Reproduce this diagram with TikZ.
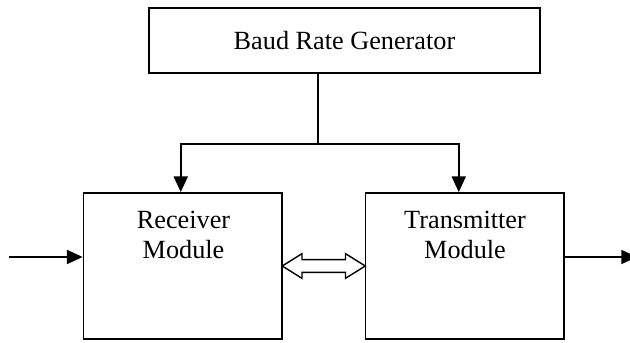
\documentclass[tikz,border=0pt]{standalone}
\usepackage{fontspec}
\setmainfont{Liberation Serif}
\usetikzlibrary{arrows.meta,shapes.arrows,calc}

\begin{document}
\begin{tikzpicture}[x=0.03cm, y=-0.03cm, >={Triangle[length=0.47cm,width=0.42cm]},
        block/.style={draw, line width=1.5pt, inner sep=0pt},
        wire/.style={line width=1.5pt},
        tag/.style={font=\fontsize{22.4}{25.5}\selectfont, align=center}]
        \useasboundingbox (0,0) rectangle (630,343);
        \node[block, tag, minimum width=11.73cm, minimum height=1.95cm] (brg) at (344.5,40.5) {Baud Rate Generator};
        \node[block, minimum width=5.955cm, minimum height=4.38cm] (rx) at (182.75,266) {};
        \node[block, minimum width=5.955cm, minimum height=4.38cm] (tx) at (464.75,266) {};
        \node[tag] (rxtext) at (183.5,235) {Receiver\\Module};
        \node[tag] (txtext) at (465,235) {Transmitter\\Module};
        % clock to both modules
        \coordinate (split) at (318,144);
        \coordinate (rxclk) at ($(rx.north)+(-2,0)$);
        \coordinate (txclk) at ($(tx.north)+(-6,0)$);
        \draw[wire] (brg.south -| split) -- (split);
        \draw[wire,->] (split) -| (rxclk);
        \draw[wire,->] (split) -| (txclk);
        % serial in and out
        \coordinate (src) at (9,257);
        \coordinate (sink) at (637,257);
        \draw[wire,->] (src) -- (src -| rx.west);
        \draw[wire,->] (sink -| tx.east) -- (sink);
        % data between the modules
        \node[double arrow, draw, line width=1.2pt, minimum height=2.49cm, minimum width=0.66cm,
            inner xsep=0pt, inner ysep=0.17cm, double arrow head extend=0.18cm,
            double arrow tip angle=64] (link) at ($(rx.east)!0.5!(tx.west)$) {};
    \end{tikzpicture}
\end{document}
